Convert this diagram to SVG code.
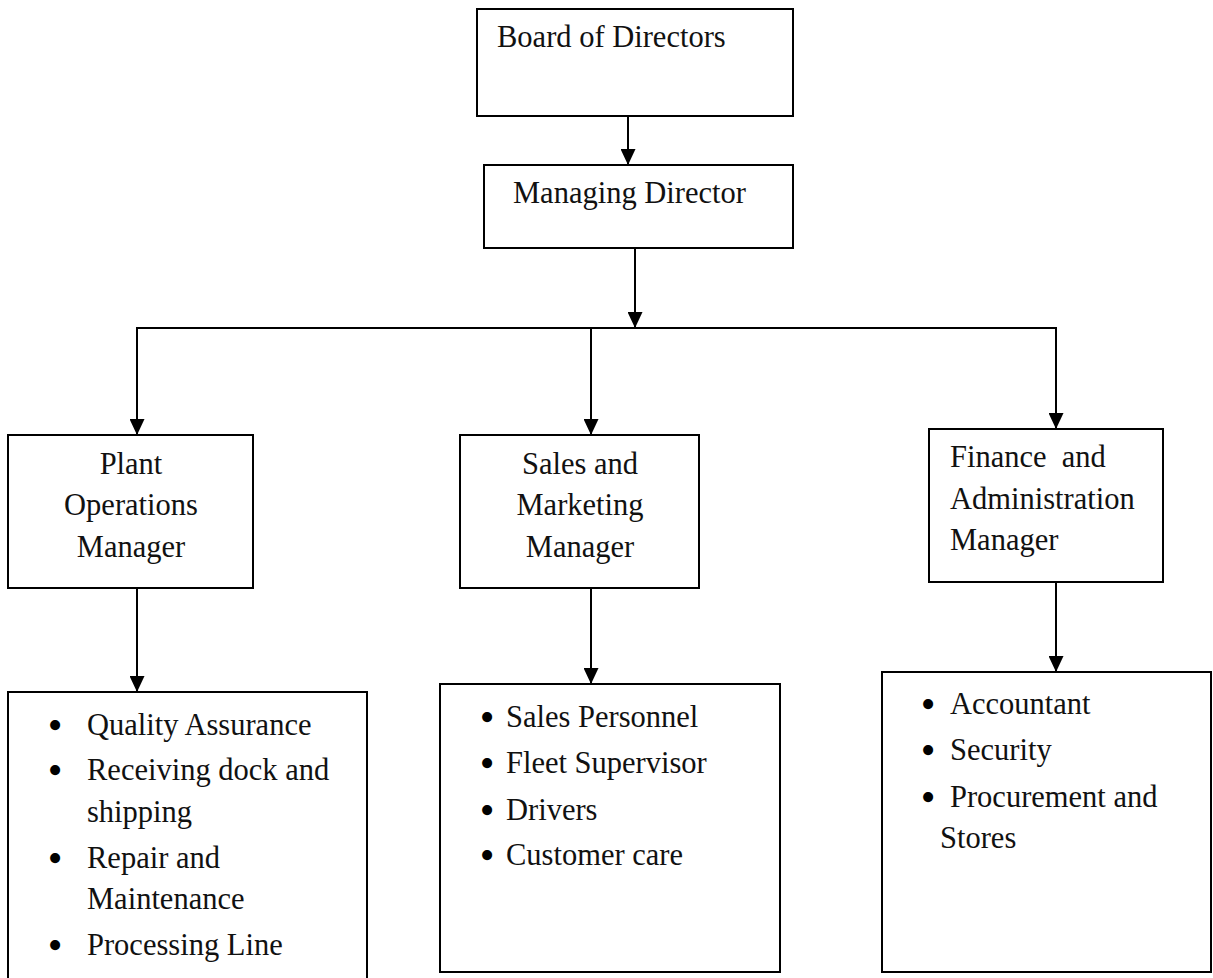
<svg xmlns="http://www.w3.org/2000/svg" width="1213" height="978" viewBox="0 0 1213 978">
<style>
  .box { fill: #ffffff; stroke: #000000; stroke-width: 2; }
  .lbl { font-family: "Liberation Serif", "Times New Roman", serif; font-size: 30.5px; fill: #111111; white-space: pre; }
  .mid { text-anchor: middle; }
  .b { font-size: 42px; fill: #000000; }
  .conn { stroke: #000000; stroke-width: 2; fill: none; }
</style>
<defs>
  <marker id="arr" viewBox="0 0 16 15" refX="16" refY="7.5" markerWidth="16" markerHeight="15" markerUnits="userSpaceOnUse" orient="auto">
    <path d="M0,0 L16,7.5 L0,15 z" fill="#000000"/>
  </marker>
</defs>
<rect width="1213" height="978" fill="#ffffff"/>

<g id="connectors">
  <line class="conn" x1="628" y1="116" x2="628" y2="165" marker-end="url(#arr)"/>
  <line class="conn" x1="635" y1="248" x2="635" y2="328" marker-end="url(#arr)"/>
  <line class="conn" x1="136" y1="328" x2="1057" y2="328"/>
  <line class="conn" x1="137" y1="328" x2="137" y2="435" marker-end="url(#arr)"/>
  <line class="conn" x1="591" y1="328" x2="591" y2="435" marker-end="url(#arr)"/>
  <line class="conn" x1="1056" y1="328" x2="1056" y2="429" marker-end="url(#arr)"/>
  <line class="conn" x1="137" y1="588" x2="137" y2="692" marker-end="url(#arr)"/>
  <line class="conn" x1="591" y1="588" x2="591" y2="684" marker-end="url(#arr)"/>
  <line class="conn" x1="1056" y1="582" x2="1056" y2="672" marker-end="url(#arr)"/>
</g>

<g id="board">
  <rect class="box" x="477" y="9" width="316" height="107"/>
  <text class="lbl" x="497" y="47">Board of Directors</text>
</g>

<g id="managing-director">
  <rect class="box" x="484" y="165" width="309" height="83"/>
  <text class="lbl" x="513" y="203">Managing Director</text>
</g>

<g id="plant-operations-manager">
  <rect class="box" x="8" y="435" width="245" height="153"/>
  <text class="lbl mid" x="131" y="474">Plant</text>
  <text class="lbl mid" x="131" y="515">Operations</text>
  <text class="lbl mid" x="131" y="557">Manager</text>
</g>

<g id="sales-marketing-manager">
  <rect class="box" x="460" y="435" width="239" height="153"/>
  <text class="lbl mid" x="580" y="474">Sales and</text>
  <text class="lbl mid" x="580" y="515">Marketing</text>
  <text class="lbl mid" x="580" y="557">Manager</text>
</g>

<g id="finance-admin-manager">
  <rect class="box" x="929" y="429" width="234" height="153"/>
  <text class="lbl" x="950" y="467">Finance  and</text>
  <text class="lbl" x="950" y="509">Administration</text>
  <text class="lbl" x="950" y="550">Manager</text>
</g>

<g id="plant-units">
  <rect class="box" x="8" y="692" width="359" height="300"/>
  <text class="lbl" y="735"><tspan class="b" x="47.65" dy="4">•</tspan><tspan x="87" dy="-4">Quality Assurance</tspan></text>
  <text class="lbl" y="780"><tspan class="b" x="47.65" dy="4">•</tspan><tspan x="87" dy="-4">Receiving dock and</tspan></text>
  <text class="lbl" x="87" y="822">shipping</text>
  <text class="lbl" y="868"><tspan class="b" x="47.65" dy="4">•</tspan><tspan x="87" dy="-4">Repair and</tspan></text>
  <text class="lbl" x="87" y="909">Maintenance</text>
  <text class="lbl" y="955"><tspan class="b" x="47.65" dy="4">•</tspan><tspan x="87" dy="-4">Processing Line</tspan></text>
</g>

<g id="sales-units">
  <rect class="box" x="440" y="684" width="340" height="288"/>
  <text class="lbl" y="727"><tspan class="b" x="479.65" dy="4">•</tspan><tspan x="506" dy="-4">Sales Personnel</tspan></text>
  <text class="lbl" y="773"><tspan class="b" x="479.65" dy="4">•</tspan><tspan x="506" dy="-4">Fleet Supervisor</tspan></text>
  <text class="lbl" y="820"><tspan class="b" x="479.65" dy="4">•</tspan><tspan x="506" dy="-4">Drivers</tspan></text>
  <text class="lbl" y="865"><tspan class="b" x="479.65" dy="4">•</tspan><tspan x="506" dy="-4">Customer care</tspan></text>
</g>

<g id="finance-units">
  <rect class="box" x="882" y="672" width="329" height="300"/>
  <text class="lbl" y="714"><tspan class="b" x="920.65" dy="4">•</tspan><tspan x="950" dy="-4">Accountant</tspan></text>
  <text class="lbl" y="760"><tspan class="b" x="920.65" dy="4">•</tspan><tspan x="950" dy="-4">Security</tspan></text>
  <text class="lbl" y="807"><tspan class="b" x="920.65" dy="4">•</tspan><tspan x="950" dy="-4">Procurement and</tspan></text>
  <text class="lbl" x="940" y="848">Stores</text>
</g>
</svg>
